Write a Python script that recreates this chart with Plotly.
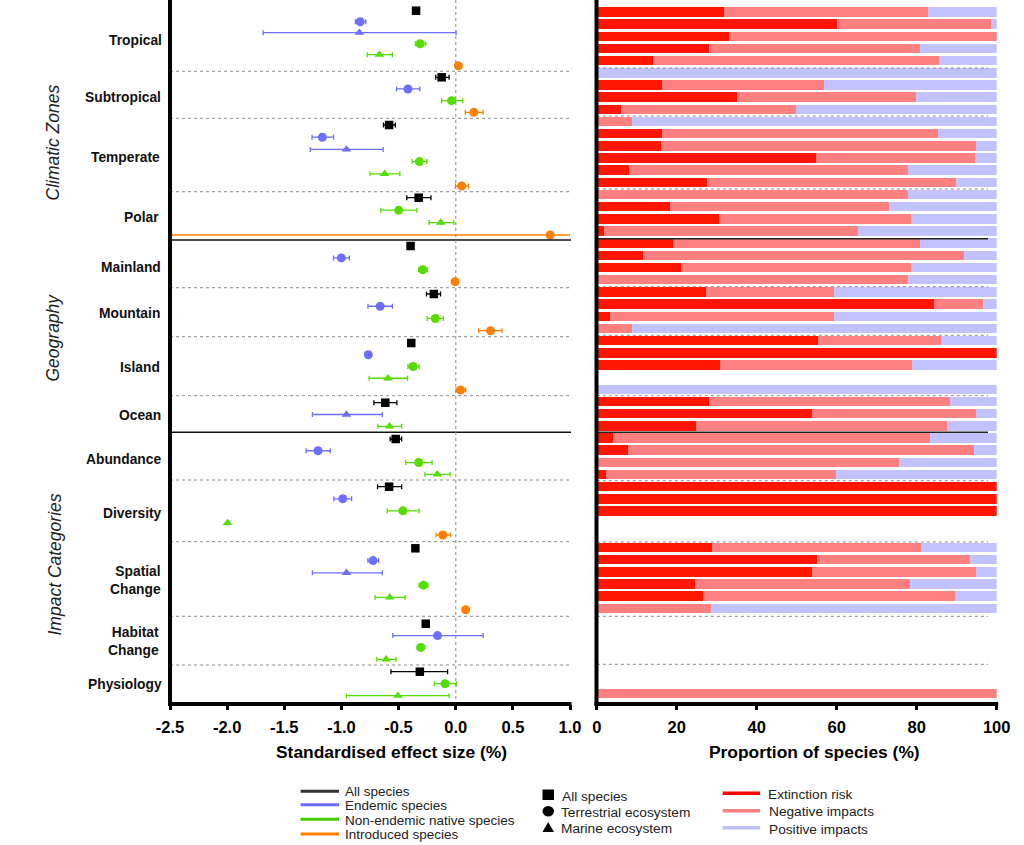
import plotly.graph_objects as go

# ---------- data: forest panel (one entry per group, None = not reported) ----------
groups = ["Tropical", "Subtropical", "Temperate", "Polar", "Mainland", "Mountain", "Island",
          "Ocean", "Abundance", "Diversity", "Spatial<br>Change", "Habitat<br>Change", "Physiology"]

all_mean = [-0.347, -0.123, -0.583, -0.324, -0.395, -0.191, -0.389, -0.616, -0.525, -0.583, -0.353, -0.262, -0.314]
all_lo   = [-0.347, -0.175, -0.632, -0.428, -0.395, -0.256, -0.389, -0.716, -0.574, -0.684, -0.353, -0.262, -0.567]
all_hi   = [-0.347, -0.058, -0.528, -0.217, -0.395, -0.133, -0.389, -0.515, -0.473, -0.473, -0.353, -0.262, -0.071]

end_t_mean = [-0.836, -0.418, -1.167, None, -1.001, -0.661, -0.765, None, -1.205, -0.988, -0.723, -0.159, None]
end_t_lo   = [-0.878, -0.518, -1.257, None, -1.069, -0.768, -0.765, None, -1.309, -1.066, -0.768, -0.551, None]
end_t_hi   = [-0.787, -0.314, -1.069, None, -0.930, -0.554, -0.765, None, -1.098, -0.911, -0.674, 0.240, None]

end_m_mean = [-0.843, None, -0.956, None, None, None, None, -0.956, None, None, -0.956, None, None]
end_m_lo   = [-1.685, None, -1.273, None, None, None, None, -1.254, None, None, -1.254, None, None]
end_m_hi   = [0.003, None, -0.635, None, None, None, None, -0.642, None, None, -0.642, None, None]

nat_t_mean = [-0.311, -0.036, -0.318, -0.499, -0.288, -0.178, -0.373, None, -0.324, -0.463, -0.282, -0.305, -0.094]
nat_t_lo   = [-0.353, -0.123, -0.382, -0.655, -0.324, -0.250, -0.418, None, -0.437, -0.599, -0.321, -0.337, -0.188]
nat_t_hi   = [-0.262, 0.062, -0.253, -0.340, -0.250, -0.107, -0.321, None, -0.207, -0.321, -0.243, -0.272, 0.006]

nat_m_mean = [-0.668, None, -0.622, -0.130, None, None, -0.593, -0.580, -0.162, -1.996, -0.577, -0.609, -0.505]
nat_m_lo   = [-0.774, None, -0.749, -0.233, None, None, -0.758, -0.680, -0.269, -1.996, -0.706, -0.690, -0.956]
nat_m_hi   = [-0.554, None, -0.489, -0.016, None, None, -0.421, -0.473, -0.049, -1.996, -0.444, -0.522, -0.058]

intro_mean = [0.023, 0.159, 0.052, 0.826, -0.006, 0.305, 0.042, None, None, -0.113, 0.087, None, None]
intro_lo   = [0.023, 0.084, -0.003, -2.5, -0.006, 0.201, 0.003, None, None, -0.172, 0.087, None, None]
intro_hi   = [0.023, 0.240, 0.113, 1.2, -0.006, 0.405, 0.087, None, None, -0.045, 0.087, None, None]

# ---------- data: stacked bars (percent of species, None = no data) ----------
extinction = [31.8, 60.0, 33.0, 28.0, 14.0, 0, 16.2, 35.1, 6.1, 0, 16.2, 16.1, 54.7, 8.0, 27.5, 0, 18.3, 30.6, 1.7,
              19.0, 11.5, 21.0, 0, 27.2, 84.3, 3.3, 0, 55.4, 100, 30.9, None, 0, 28.1, 53.8, 24.7, 4.1, 7.9, 0, 2.3,
              100, 100, 100, None, None, 28.7, 55.0, 53.8, 24.5, 26.6, 0, None, None, None, None, None, None, 0]
negative = [51.1, 38.6, 67.0, 52.7, 71.5, 0.4, 40.6, 44.7, 43.6, 8.9, 69.2, 78.6, 39.9, 69.8, 62.4, 77.8, 54.7, 47.9, 63.5,
            61.8, 80.2, 57.5, 77.8, 32.1, 12.3, 56.0, 8.9, 30.6, 0, 47.8, None, 0.4, 60.2, 40.9, 62.8, 79.3, 86.3, 75.5, 57.5,
            0, 0, 0, None, None, 52.3, 38.2, 40.9, 53.9, 62.9, 28.5, None, None, None, None, None, None, 100]
positive = [17.1, 1.4, 0, 19.3, 14.5, 99.6, 43.2, 20.2, 50.3, 91.1, 14.6, 5.3, 5.4, 22.2, 10.1, 22.2, 27.0, 21.5, 34.8,
            19.2, 8.3, 21.5, 22.2, 40.7, 3.4, 40.7, 91.1, 14.0, 0, 21.3, None, 99.6, 11.7, 5.3, 12.5, 16.6, 5.8, 24.5, 40.2,
            0, 0, 0, None, None, 19.0, 6.8, 5.3, 21.6, 10.5, 71.5, None, None, None, None, None, None, 0]

left_ticks = [-2.5, -2.0, -1.5, -1.0, -0.5, 0.0, 0.5, 1.0]
right_ticks = [0, 20, 40, 60, 80, 100]

# ---------- layout geometry (canvas pixels) ----------
W, H = 1024, 845
PLOT_BOTTOM = 704
L0, L1 = 170, 570
R0, R1 = 596.8, 996.7
FONT = "Liberation Sans"
BLACK, BLUE, GREEN, ORANGE = "#000000", "#6e6eff", "#55dd00", "#ff8000"
RED, PINK, LILAC = "#ff1500", "#ff8080", "#c2c2ff"

# first and last row centre of every group on the left-hand axis
group_span = [(10.7, 65.7), (77.3, 112.3), (125, 186), (197.7, 235), (246, 281.7), (294, 330.7), (343, 390),
              (402.7, 426.3), (439, 474.3), (486.7, 535), (548.3, 609.7), (623.7, 659.3), (671.7, 695.7)]
label_y = [40.7, 97, 157.3, 217, 268, 314, 367.3, 415.3, 459, 513.3, 580.5, 641.5, 684]
label_right = [162.6, 162, 160.7, 160.4, 161.5, 161, 161, 161.5, 162, 162.5, 161.5, 160, 162.5]
dotted_left = [71.3, 118.3, 191.7, 287.7, 336.7, 395.7, 480, 541.7, 616.3, 665]
dotted_right = [68, 116, 189, 286.7, 335.3, 395.7, 480.7, 542, 616.3, 664.3]
solid_left = [240, 432.3]
solid_right = [238.7, 432.3]
BAR_TOP, BAR_STEP = 12.0, 12.17

series = [
    ("All species", all_mean, all_lo, all_hi, BLACK, "square", 8.5, 1.3),
    ("Endemic, terrestrial", end_t_mean, end_t_lo, end_t_hi, BLUE, "circle", 9, 1.3),
    ("Endemic, marine", end_m_mean, end_m_lo, end_m_hi, BLUE, "triangle-up", 8.5, 1.3),
    ("Native, terrestrial", nat_t_mean, nat_t_lo, nat_t_hi, GREEN, "circle", 9, 1.3),
    ("Native, marine", nat_m_mean, nat_m_lo, nat_m_hi, GREEN, "triangle-up", 8.5, 1.3),
    ("Introduced", intro_mean, intro_lo, intro_hi, ORANGE, "circle", 9, 1.3),
]

# rows inside a group are evenly spaced, in series order, skipping absent series
row_y = {}
for g in range(len(groups)):
    present = [s for s in range(len(series)) if series[s][1][g] is not None]
    first, last = group_span[g]
    for k, s in enumerate(present):
        row_y[(g, s)] = first + (last - first) * k / (len(present) - 1)

fig = go.Figure()
for s, (name, mean, lo, hi, colour, symbol, size, thick) in enumerate(series):
    idx = [g for g in range(len(groups)) if mean[g] is not None]
    fig.add_trace(go.Scatter(
        x=[mean[g] for g in idx],
        y=[row_y[(g, s)] for g in idx],
        mode="markers", name=name, showlegend=False,
        marker=dict(color=colour, symbol=symbol, size=size, line=dict(width=0)),
        error_x=dict(type="data", symmetric=False,
                     array=[hi[g] - mean[g] for g in idx],
                     arrayminus=[mean[g] - lo[g] for g in idx],
                     color=colour, thickness=thick, width=2.5),
        xaxis="x", yaxis="y",
    ))

rows = list(range(len(extinction)))
for name, vals, colour in [("Extinction risk", extinction, RED), ("Negative impacts", negative, PINK),
                           ("Positive impacts", positive, LILAC)]:
    fig.add_trace(go.Bar(x=vals, y=rows, orientation="h", name=name, showlegend=False,
                         marker=dict(color=colour, line=dict(width=0)), width=0.78,
                         xaxis="x2", yaxis="y2"))


def px(x):
    return x / W


def py(y):
    return 1 - y / H


shapes = []


def pline(x0, y0, x1, y1, colour, width, dash="solid"):
    shapes.append(dict(type="line", xref="paper", yref="paper", x0=px(x0), x1=px(x1), y0=py(y0), y1=py(y1),
                       line=dict(color=colour, width=width, dash=dash)))


for y in dotted_left:
    pline(L0, y, L1, y, "#8a8a8a", 1, "dot")
for y in dotted_right:
    pline(R0, y, 988, y, "#8a8a8a", 1, "dot")
for y in solid_left:
    pline(L0, y, L1 + 1, y, "#111111", 1.4)
for y in solid_right:
    pline(R0, y, 988, y, "#222222", 1.4)
pline(455.8, 0, 455.8, PLOT_BOTTOM, "#8a8a8a", 1, "dot")

# heavy axis lines
pline(L0, 0, L0, PLOT_BOTTOM + 2, "#000000", 4)
pline(L0 - 2, PLOT_BOTTOM, L1 + 1.5, PLOT_BOTTOM, "#000000", 4)
pline(R0 - 0.3, 0, R0 - 0.3, PLOT_BOTTOM + 2, "#000000", 4)
pline(R0 - 2.3, PLOT_BOTTOM, R1 + 1.5, PLOT_BOTTOM, "#000000", 4)

annotations = []


def text(x, y, s, size, anchor="left", bold=False, italic=False, angle=0, colour="#111111"):
    if italic:
        s = f"<i>{s}</i>"
    annotations.append(dict(xref="paper", yref="paper", x=px(x), y=py(y), text=s, showarrow=False,
                            xanchor=anchor, yanchor="middle", textangle=angle, align=anchor, borderpad=0,
                            font=dict(family=FONT, size=size, color=colour,
                                      weight="bold" if bold else "normal")))


for name, y, right in zip(groups, label_y, label_right):
    text(right, y, name, 13.8, anchor="right", bold=True)

text(52.5, 143, "Climatic Zones", 17.5, anchor="center", italic=True, angle=-90, colour="#222222")
text(52.5, 338, "Geography", 17.5, anchor="center", italic=True, angle=-90, colour="#222222")
text(54.5, 565, "Impact Categories", 17.5, anchor="center", italic=True, angle=-90, colour="#222222")

text(391.3, 752, "Standardised effect size (%)", 17.4, anchor="center", bold=True, colour="#000000")
text(814, 752, "Proportion of species (%)", 17.4, anchor="center", bold=True, colour="#000000")

# legend column 1: colour of species group
for y_line, y_txt, colour, label in [(791.3, 791, "#333333", "All species"), (804.7, 805.2, "#6a6aff", "Endemic species"),
                                     (819.3, 820, "#44cc00", "Non-endemic native species"),
                                     (834, 834.3, "#ff8000", "Introduced species")]:
    pline(300.6, y_line, 339, y_line, colour, 3)
    text(344.4, y_txt, label, 13.5, colour="#222222")

# legend column 2: marker meaning
shapes.append(dict(type="rect", xref="paper", yref="paper", x0=px(542.5), x1=px(554), y0=py(789.5), y1=py(800),
                   fillcolor="#000000", line=dict(width=0)))
shapes.append(dict(type="circle", xref="paper", yref="paper", x0=px(542.5), x1=px(554), y0=py(806), y1=py(816.5),
                   fillcolor="#000000", line=dict(width=0)))
tx0, tx1, tmid, ty0, ty1 = px(542.5), px(554), px(548.2), py(832), py(822)
shapes.append(dict(type="path", xref="paper", yref="paper", path=f"M {tx0} {ty0} L {tx1} {ty0} L {tmid} {ty1} Z",
                   fillcolor="#000000", line=dict(width=0)))
text(561, 796.7, "All species", 13.7, colour="#222222")
text(559.5, 812.3, "Terrestrial ecosystem", 13.7, colour="#222222")
text(560, 828.3, "Marine ecosystem", 13.7, colour="#222222")

# legend column 3: bar colours
for y_line, y_txt, x_txt, colour, label in [(793.3, 794, 767, "#ff0000", "Extinction risk"),
                                            (810.7, 811.7, 768, "#ff8080", "Negative impacts"),
                                            (827.7, 829, 768, "#c0c0ff", "Positive impacts")]:
    pline(722.7, y_line, 760, y_line, colour, 3.5)
    text(x_txt, y_txt, label, 13.7, colour="#222222")

dom_y = [py(PLOT_BOTTOM), 1]
tickfont = dict(family=FONT, size=16.5, color="#000000", weight="bold")
fig.update_layout(
    width=W, height=H, autosize=False,
    margin=dict(l=0, r=0, t=0, b=0, autoexpand=False),
    plot_bgcolor="white", paper_bgcolor="white",
    barmode="stack", showlegend=False,
    xaxis=dict(domain=[px(L0), px(L1)], range=[left_ticks[0], left_ticks[-1]], tickvals=left_ticks,
               ticktext=[f"{v:.1f}" for v in left_ticks], ticks="outside", ticklen=5, tickwidth=3,
               tickcolor="#000000", showgrid=False, zeroline=False, showline=False, tickfont=tickfont,
               anchor="y", ticklabelstandoff=3),
    yaxis=dict(domain=dom_y, range=[PLOT_BOTTOM, 0], showticklabels=False, ticks="", showgrid=False,
               zeroline=False, showline=False, anchor="x"),
    xaxis2=dict(domain=[px(R0), px(R1)], range=[0, 100], tickvals=right_ticks, ticks="outside", ticklen=5,
                tickwidth=3, tickcolor="#000000", showgrid=False, zeroline=False, showline=False,
                tickfont=tickfont, anchor="y2", ticklabelstandoff=3),
    yaxis2=dict(domain=dom_y, range=[(PLOT_BOTTOM - BAR_TOP) / BAR_STEP, -BAR_TOP / BAR_STEP], showticklabels=False,
                ticks="", showgrid=False, zeroline=False, showline=False, anchor="x2"),
    shapes=shapes, annotations=annotations,
)

fig.write_html("out.html", config={"displayModeBar": False},
               post_script="document.body.style.margin='0';document.documentElement.style.overflow='hidden';")
